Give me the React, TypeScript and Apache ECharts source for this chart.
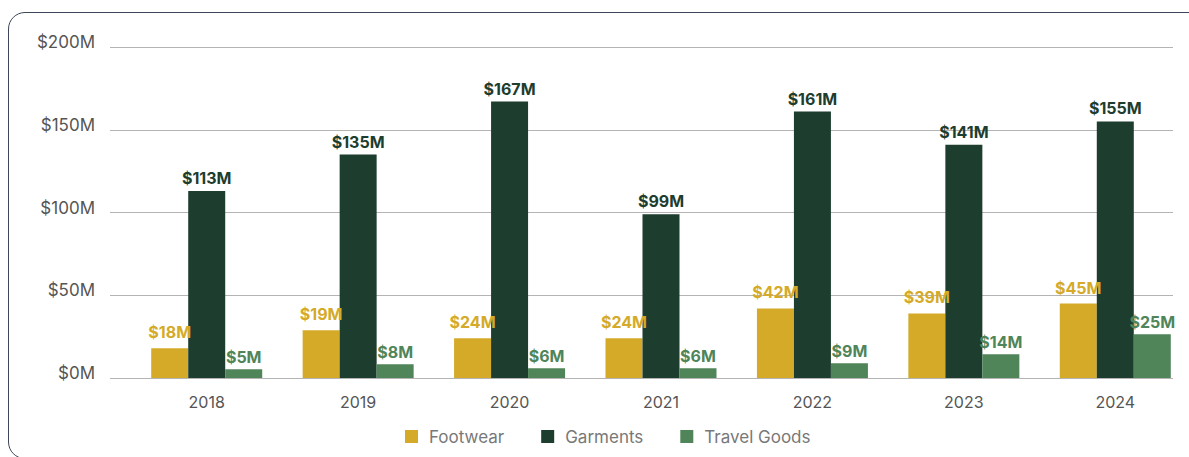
import React, { useEffect, useRef } from "react";
import * as echarts from "echarts";

const years = ["2018", "2019", "2020", "2021", "2022", "2023", "2024"];
const footwear = [18, 28.8, 24, 24, 42, 39, 45];
const footwearLabels = ["$18M", "$19M", "$24M", "$24M", "$42M", "$39M", "$45M"];
const garments = [113, 135, 167, 99, 161, 141, 155];
const garmentsLabels = ["$113M", "$135M", "$167M", "$99M", "$161M", "$141M", "$155M"];
const travel = [5.3, 8.3, 5.9, 5.9, 8.9, 14.3, 26.4];
const travelLabels = ["$5M", "$8M", "$6M", "$6M", "$9M", "$14M", "$25M"];
const yTicks = [0, 50, 100, 150, 200];

const FONT = "Inter, 'Noto Sans', sans-serif";
const C_FOOT = "#D4AA28";
const C_GARM = "#1D3D2F";
const C_TRAV = "#4F8558";

export default function App() {
  const ref = useRef<HTMLDivElement>(null);
  useEffect(() => {
    if (!ref.current) return;
    const chart = echarts.init(ref.current, null, { renderer: "svg" });
    const mkSeries = (name: string, data: number[], labels: string[], color: string, dist: number) => ({
      name,
      type: "bar",
      xAxisIndex: 0,
      yAxisIndex: 0,
      data,
      barWidth: 37,
      barGap: "0%",
      itemStyle: { color },
      label: {
        show: true,
        position: "top",
        distance: dist,
        color,
        fontFamily: FONT,
        fontSize: 16,
        fontWeight: "bold",
        formatter: (p: any) => labels[p.dataIndex],
      },
    });
    const yMin = yTicks[0];
    const yMax = yTicks[yTicks.length - 1];
    chart.setOption({
      animation: false,
      textStyle: { fontFamily: FONT },
      grid: [
        { left: 131, right: 9, top: 47, bottom: 79 },
        { left: 110, right: 27, top: 47, bottom: 79 },
        { left: 110, right: 27, top: 42, bottom: 84 },
      ],
      legend: {
        left: 400,
        top: 423,
        itemWidth: 13,
        itemHeight: 13,
        itemGap: 37,
        icon: "rect",
        textStyle: { fontFamily: FONT, fontSize: 17, color: "#787878", padding: [0, 0, 0, 6] },
        data: ["Footwear", "Garments", "Travel Goods"],
      },
      xAxis: [
        {
          gridIndex: 0,
          type: "category",
          data: years,
          axisLine: { show: false },
          axisTick: { show: false },
          axisLabel: { fontFamily: FONT, fontSize: 16, color: "#555", margin: 16 },
        },
        { gridIndex: 1, type: "value", show: false },
        { gridIndex: 2, type: "value", show: false },
      ],
      yAxis: [
        { gridIndex: 0, type: "value", min: yMin, max: yMax, interval: 50, show: false },
        {
          gridIndex: 1,
          type: "value",
          min: yMin,
          max: yMax,
          interval: 50,
          axisLine: { show: false },
          axisTick: { show: false },
          axisLabel: { show: false },
          splitLine: { lineStyle: { color: "#b4b4b4", width: 1 } },
        },
        {
          gridIndex: 2,
          type: "value",
          min: yMin,
          max: yMax,
          interval: 50,
          axisLine: { show: false },
          axisTick: { show: false },
          splitLine: { show: false },
          axisLabel: {
            fontFamily: FONT,
            fontSize: 17,
            color: "#555",
            margin: 15,
            formatter: (v: number) => "$" + v + "M",
          },
        },
      ],
      series: [
        mkSeries("Footwear", footwear, footwearLabels, C_FOOT, 8),
        mkSeries("Garments", garments, garmentsLabels, C_GARM, 5),
        mkSeries("Travel Goods", travel, travelLabels, C_TRAV, 4),
      ],
    });
    return () => chart.dispose();
  }, []);
  return (
    <div style={{ position: "absolute", left: 0, top: 0, width: 1189, height: 457, overflow: "hidden", background: "#fff" }}>
      <div
        style={{
          position: "absolute",
          left: 8,
          top: 12,
          width: 1300,
          height: 447,
          border: "1.5px solid #3d4757",
          borderRadius: 17,
          boxSizing: "border-box",
        }}
      />
      <div ref={ref} style={{ position: "absolute", left: 0, top: 0, width: 1200, height: 457 }} />
    </div>
  );
}
